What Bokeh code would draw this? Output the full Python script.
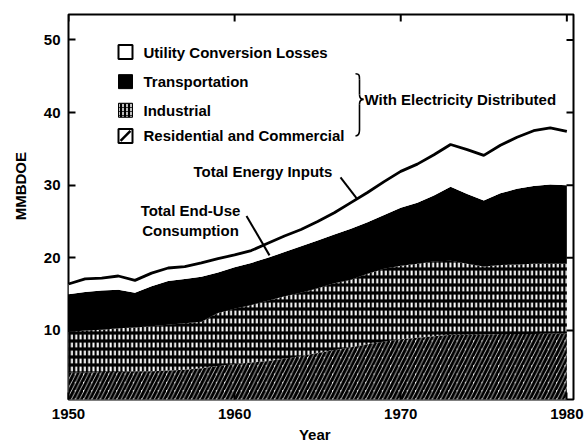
import numpy as np
from bokeh.plotting import figure
from bokeh.models import Range1d, FixedTicker, LinearAxis, Label
from bokeh.embed import file_html
from bokeh.resources import INLINE

# ---- data (MMBDOE) ----
years = list(range(1950, 1981))
res_com = [4.2, 4.2, 4.3, 4.3, 4.4, 4.4, 4.5, 4.6, 4.8, 5.1, 5.4, 5.6, 5.8, 6.1, 6.5, 6.9,
           7.3, 7.7, 8.1, 8.5, 8.8, 9.0, 9.2, 9.4, 9.4, 9.4, 9.5, 9.5, 9.5, 9.6, 9.6]
industrial = [5.6, 5.8, 5.8, 6.0, 6.0, 6.2, 6.3, 6.4, 6.4, 7.3, 7.6, 7.9, 8.3, 8.6, 8.7, 8.9,
              9.2, 9.3, 9.7, 10.0, 10.1, 10.2, 10.3, 10.2, 9.8, 9.4, 9.5, 9.6, 9.7, 9.6, 9.6]
transportation = [5.2, 5.3, 5.4, 5.3, 4.8, 5.5, 6.0, 6.1, 6.2, 5.6, 5.7, 5.8, 5.9, 6.1, 6.4, 6.6,
                  6.7, 7.0, 7.1, 7.4, 8.0, 8.4, 9.1, 10.2, 9.6, 9.1, 9.9, 10.4, 10.7, 10.9, 10.8]
utility_losses = [1.4, 1.8, 1.7, 1.9, 1.7, 1.8, 1.8, 1.7, 1.9, 1.9, 1.7, 1.7, 2.0, 2.2, 2.3, 2.6,
                  3.0, 3.6, 4.1, 4.6, 5.0, 5.3, 5.6, 5.8, 6.1, 6.2, 6.6, 7.1, 7.6, 7.8, 7.4]
x_ticks = [1950, 1960, 1970, 1980]
y_ticks = [10, 20, 30, 40, 50]
legend_labels = ["Utility Conversion Losses", "Transportation", "Industrial",
                 "Residential and Commercial"]

# ---- stacking ----
yrs = np.array(years, dtype=float)
s0 = np.zeros(len(years))
s1 = s0 + np.array(res_com)
s2 = s1 + np.array(industrial)
s3 = s2 + np.array(transportation)
s4 = s3 + np.array(utility_losses)

FONT = "Liberation Sans"
X0, X1 = 1950, 1980.4
Y0, Y1 = 0.5, 53.5
FL, FR, FT, FB = 68, 573, 14, 404  # frame edges in page pixels
W, H = 587, 445


def dx(px):
    return X0 + (px - FL) * (X1 - X0) / (FR - FL)


def dy(py):
    return Y0 + (FB - py) * (Y1 - Y0) / (FB - FT)


p = figure(width=W, height=H, output_backend="svg", toolbar_location=None,
           x_range=Range1d(X0, X1), y_range=Range1d(Y0, Y1),
           min_border_left=FL, min_border_right=W - FR, min_border_top=FT,
           min_border_bottom=H - FB,
           x_axis_location=None, y_axis_location=None)
p.grid.visible = False
p.outline_line_color = "black"
p.outline_line_width = 2
p.background_fill_color = "white"
p.border_fill_color = "white"


def style_axis(ax):
    ax.axis_line_color = None
    ax.major_tick_in = 7
    ax.major_tick_out = 0
    ax.major_tick_line_width = 2
    ax.major_tick_line_color = "black"
    ax.minor_tick_line_color = None
    ax.major_label_text_font = FONT
    ax.major_label_text_font_style = "bold"
    ax.major_label_text_font_size = "15px"
    ax.major_label_text_color = "black"
    ax.axis_label_text_font = FONT
    ax.axis_label_text_font_style = "bold"
    ax.axis_label_text_font_size = "15px"
    ax.axis_label_text_color = "black"


NB = "\u00a0"
ax_b = LinearAxis(ticker=FixedTicker(ticks=x_ticks), axis_label="Year" + NB * 3)
style_axis(ax_b)
ax_b.major_label_standoff = 9
ax_b.axis_label_standoff = 4
p.add_layout(ax_b, "below")
ax_l = LinearAxis(ticker=FixedTicker(ticks=y_ticks), axis_label=NB * 10 + "MMBDOE")
style_axis(ax_l)
ax_l.major_label_standoff = 8
ax_l.axis_label_standoff = 12
p.add_layout(ax_l, "left")

# ---- areas ----
p.varea(x=yrs, y1=s0, y2=s1, fill_color="white", hatch_pattern="/", hatch_color="black",
        hatch_scale=8.3, hatch_weight=3.1)
p.varea(x=yrs, y1=s1, y2=s2, fill_color="black", hatch_pattern="|", hatch_color="white",
        hatch_scale=4.3, hatch_weight=2)
p.varea(x=yrs, y1=s1, y2=s2, fill_alpha=0, hatch_pattern="-", hatch_color="black",
        hatch_scale=8, hatch_weight=3.2)
p.varea(x=yrs, y1=s2, y2=s3, fill_color="black")
p.varea(x=yrs, y1=s3, y2=s4, fill_color="white")
p.line(x=yrs, y=s4, line_color="black", line_width=2.8)

# inside ticks on the top and right edges
tick_dy = 7 * (Y1 - Y0) / (FB - FT)
tick_dx = 7 * (X1 - X0) / (FR - FL)
p.segment(x0=x_ticks, y0=[Y1] * len(x_ticks), x1=x_ticks, y1=[Y1 - tick_dy] * len(x_ticks),
          line_color="black", line_width=2)
p.segment(x0=[X1] * len(y_ticks), y0=y_ticks, x1=[X1 - tick_dx] * len(y_ticks), y1=y_ticks,
          line_color="black", line_width=2)

# ---- legend (drawn) ----
rows_py = [52, 82, 111, 137]
lx = dx(125)
ly = [dy(v) for v in rows_py]
p.scatter(x=[lx], y=[ly[0]], marker="square", size=14, fill_color="white",
          line_color="black", line_width=2)
p.scatter(x=[lx], y=[ly[1]], marker="square", size=14, fill_color="black",
          line_color="black", line_width=1)
p.scatter(x=[lx], y=[ly[2]], marker="square", size=14, fill_color="black",
          line_color="black", line_width=1, hatch_pattern=":", hatch_color="white",
          hatch_scale=4, hatch_weight=1.5)
p.scatter(x=[lx], y=[ly[3]], marker="square", size=14, fill_color="white",
          line_color="black", line_width=2)
p.scatter(x=[lx], y=[ly[3]], marker="dash", size=14, angle=np.pi / 4,
          line_color="black", line_width=2.5)


def label(x, y, text, align="left"):
    p.add_layout(Label(x=x, y=y, text=text, text_font=FONT, text_font_style="bold",
                       text_font_size="15px", text_baseline="middle", text_align=align,
                       text_color="black"))


for lab, yy in zip(legend_labels, ly):
    label(dx(143), yy, lab)

# brace
bx = 359
bw = 1.6
p.bezier(x0=[dx(355)], y0=[dy(74)], x1=[dx(bx)], y1=[dy(80)],
         cx0=[dx(bx)], cy0=[dy(74)], cx1=[dx(bx)], cy1=[dy(76)],
         line_width=bw, line_color="black")
p.line(x=[dx(bx), dx(bx)], y=[dy(80), dy(95)], line_width=bw, line_color="black")
p.bezier(x0=[dx(bx)], y0=[dy(95)], x1=[dx(363)], y1=[dy(100)],
         cx0=[dx(bx)], cy0=[dy(99)], cx1=[dx(361)], cy1=[dy(100)],
         line_width=bw, line_color="black")
p.bezier(x0=[dx(363)], y0=[dy(100)], x1=[dx(bx)], y1=[dy(105)],
         cx0=[dx(361)], cy0=[dy(100)], cx1=[dx(bx)], cy1=[dy(101)],
         line_width=bw, line_color="black")
p.line(x=[dx(bx), dx(bx)], y=[dy(105), dy(131)], line_width=bw, line_color="black")
p.bezier(x0=[dx(bx)], y0=[dy(131)], x1=[dx(355)], y1=[dy(137)],
         cx0=[dx(bx)], cy0=[dy(135)], cx1=[dx(358)], cy1=[dy(137)],
         line_width=bw, line_color="black")
label(dx(364), dy(100), "With Electricity Distributed")

# annotations
label(dx(193), dy(173), "Total Energy Inputs")
p.line(x=[dx(340), dx(356)], y=[dy(179), dy(200)], line_color="black", line_width=2)
label(dx(190), dy(213), "Total End-Use", "center")
label(dx(190), dy(233), "Consumption", "center")
p.line(x=[dx(246), dx(269)], y=[dy(218), dy(258)], line_color="black", line_width=2)

open("out.html", "w").write(file_html(p, INLINE))
